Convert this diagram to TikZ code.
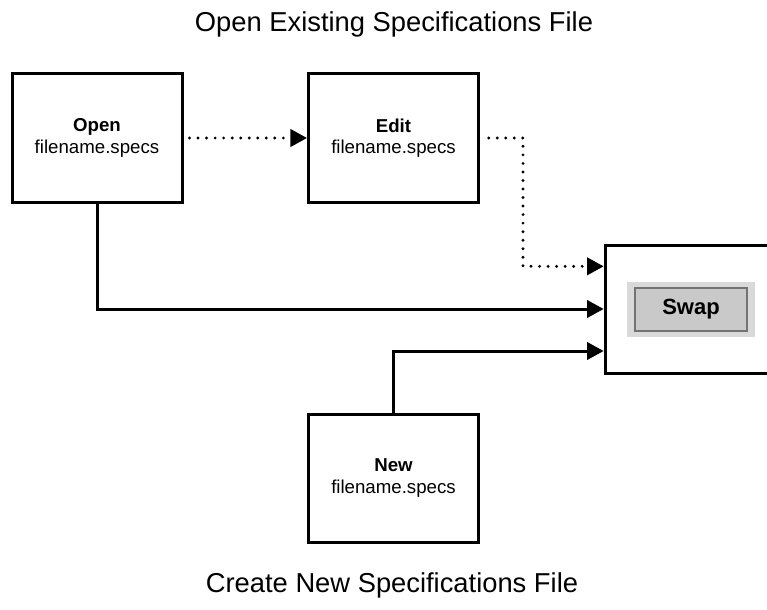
\documentclass[tikz,border=0pt]{standalone}
\usepackage{fontspec}
\setmainfont{Liberation Sans}
\usetikzlibrary{arrows.meta}

\tikzset{
  filebox/.style={draw, line width=2.25pt, minimum width=127.5pt, minimum height=96pt,
    inner sep=0pt, align=center, font=\fontsize{14pt}{16pt}\selectfont},
  solidline/.style={line width=2.25pt, -{Triangle[length=12.5pt,width=13pt]}},
  dotline/.style={line width=2.4pt, line cap=round, dash pattern=on 0pt off 6.4pt,
    -{Triangle[length=12.5pt,width=13pt]}},
  heading/.style={font=\fontsize{20.5pt}{24pt}\selectfont, anchor=base},
  btnframe/.style={fill=black!15, minimum width=96pt, minimum height=41.25pt, inner sep=0pt},
  btnface/.style={fill=black!21, draw=black!55, line width=1.5pt, minimum width=84pt,
    minimum height=32pt, inner sep=0pt, font=\bfseries\fontsize{16.5pt}{18pt}\selectfont},
}

\begin{document}
\begin{tikzpicture}[x=0.75pt, y=-0.75pt]
    \useasboundingbox (0,0) rectangle (767,610);
    \clip (0,0) rectangle (767,610);

    % titles
    \node[heading] (toptitle) at (394,31.5) {Open Existing Specifications File};
    \node[heading] (bottomtitle) at (392,592) {Create New Specifications File};

    % file boxes
    \node[filebox] (open) at (97,138) {\textbf{Open}\\filename.specs};
    \node[filebox] (edit) at (393.5,138) {\textbf{Edit}\\filename.specs};
    \node[filebox] (new) at (393.5,478) {\textbf{New}\\filename.specs};

    % swap panel, cut off at the right edge
    \node[filebox, minimum width=131pt] (swap) at (692.5,309) {};
    \node[btnframe] (btnbg) at (691,309.5) {};
    \node[btnface] (btn) at (btnbg.center) {Swap};

    % connectors
    \draw[dotline, shorten <=4.5pt] (open.east) -- (edit.west);
    \draw[dotline, shorten <=6.5pt] (edit.east) -- ++(43,0) |- ([yshift=32pt]swap.west);
    \draw[solidline] (open.south) |- (swap.west);
    \draw[solidline] (new.north) |- ([yshift=-31.5pt]swap.west);
\end{tikzpicture}
\end{document}
